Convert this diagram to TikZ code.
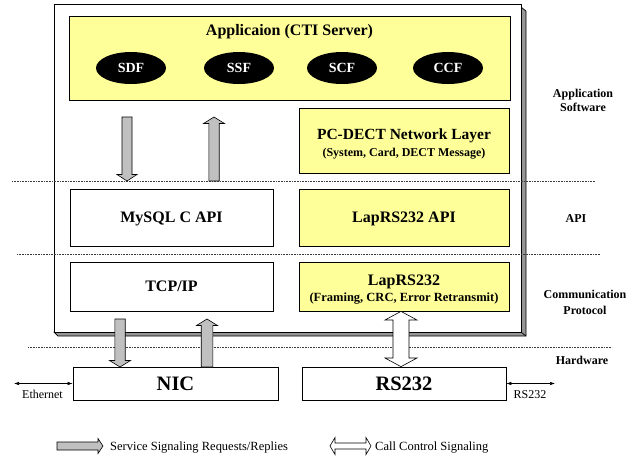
\documentclass[tikz,border=0pt]{standalone}
\usepackage{fontspec}
\setmainfont{Liberation Serif}
\usetikzlibrary{arrows.meta,shapes.geometric}

\definecolor{paleyellow}{RGB}{255,255,153}
\definecolor{arrowgray}{RGB}{192,192,192}
\definecolor{shadowgray}{RGB}{150,150,150}
\definecolor{dotgray}{RGB}{60,60,60}

% vertical block arrow: #1 style, #2 x, #3 tail y, #4 tip y, #5 half shaft, #6 half head
\newcommand{\blockvarrow}[6]{%
  \pgfmathsetmacro\bvbase{#4-6.5*sign(#4-#3)}%
  \filldraw[#1] (#2-#5,#3) -- (#2+#5,#3) -- (#2+#5,\bvbase) -- (#2+#6,\bvbase)
    -- (#2,#4) -- (#2-#6,\bvbase) -- (#2-#5,\bvbase) -- cycle;}

\begin{document}
\begin{tikzpicture}[x=1pt,y=-1pt,
  edge/.style={draw=black, line width=0.7pt},
  layerbox/.style={edge, fill=white, inner sep=0pt, text height=10.5pt, text depth=0pt,
    font=\bfseries\fontsize{16}{19}\selectfont},
  yellowbox/.style={layerbox, fill=paleyellow},
  hwbox/.style={edge, fill=white, inner sep=0pt, minimum height=33pt, text height=13.5pt,
    text depth=0pt, font=\bfseries\fontsize{20.5}{24}\selectfont},
  func/.style={ellipse, fill=black, text=white, minimum width=70pt, minimum height=32pt,
    inner sep=0pt, font=\bfseries\fontsize{14}{16}\selectfont},
  headline/.style={anchor=base, inner sep=0pt, font=\bfseries\fontsize{16}{19}\selectfont},
  subline/.style={anchor=base, inner sep=0pt, font=\bfseries\fontsize{12.5}{15}\selectfont},
  layername/.style={align=center, inner sep=0pt, font=\bfseries\fontsize{12}{14}\selectfont},
  plain/.style={inner sep=0pt, font=\fontsize{12}{14}\selectfont},
  dotline/.style={draw=dotgray, line width=0.6pt, dash pattern=on 0.8pt off 0.8pt},
  grayblock/.style={fill=arrowgray, draw=black, line width=0.6pt},
  whiteblock/.style={fill=white, draw=black, line width=0.6pt},
  wire/.style={draw=black, line width=0.6pt, {Latex[length=5pt,width=3.5pt]}-{Latex[length=5pt,width=3.5pt]}}
]
\useasboundingbox (0,0) rectangle (633,459);

% host frame with its bevelled shadow
\filldraw[edge, fill=shadowgray] (521,7) -- (526,11) -- (526,336) -- (58,336) -- (54,332) -- cycle;
\node[edge, fill=white, minimum width=467pt, minimum height=328pt, inner sep=0pt] (host) at (287.5,168) {};
\coordinate (shadowcorner) at (526,336);
\draw[edge] (host.south east) -- (shadowcorner);

% application layer
\node[yellowbox, minimum width=441pt, minimum height=84pt] (app) at (289.5,58) {};
\node[headline] (apptitle) at (289.5,35) {Applicaion (CTI Server)};
\node[func] (sdf) at (131,68) {SDF};
\node[func] (ssf) at (239,68) {SSF};
\node[func] (scf) at (342,68) {SCF};
\node[func] (ccf) at (448,68) {CCF};

\node[yellowbox, minimum width=210pt, minimum height=65pt] (netlayer) at (404,140.5) {};
\node[headline, font=\bfseries\fontsize{15.5}{18}\selectfont] (nettitle) at (404,139) {PC-DECT Network Layer};
\node[subline, font=\bfseries\fontsize{12}{14}\selectfont] (netsub) at (404,156.5) {(System, Card, DECT Message)};

% API layer
\node[layerbox, minimum width=203pt, minimum height=57pt] (mysql) at (171.5,217.5) {MySQL C API};
\node[yellowbox, minimum width=210pt, minimum height=57pt] (lapapi) at (404,217.5) {LapRS232 API};

% communication protocol layer
\node[layerbox, minimum width=203pt, minimum height=49pt] (tcpip) at (171.5,286.5) {TCP/IP};
\node[yellowbox, minimum width=210pt, minimum height=49pt] (lap) at (404,286.5) {};
\node[headline] (laptitle) at (404,285.5) {LapRS232};
\node[subline] (lapsub) at (404,301) {(Framing, CRC, Error Retransmit)};

% layer separators
\draw[dotline] (12,181) -- (595,181);
\draw[dotline] (17,254) -- (600,254);
\draw[dotline] (28,347) -- (612,347);

% hardware
\node[hwbox, minimum width=205pt] (nic) at (175.5,383.5) {NIC};
\node[hwbox, minimum width=204pt] (rs) at (404,383.5) {RS232};

\coordinate (ethend) at (14,383.5);
\coordinate (rsend) at (555,383.5);
\draw[wire] (ethend) -- (nic.west);
\draw[wire] (rs.east) -- (rsend);
\node[plain, anchor=base] (ethlabel) at (42.5,398.5) {Ethernet};
\node[plain, anchor=base] (rslabel) at (530,398.5) {RS232};

% layer names
\node[layername] (lnapp) at (583,100) {Application\\Software};
\node[layername, anchor=base] (lnapi) at (576,222) {API};
\node[layername, font=\bfseries\fontsize{12}{16}\selectfont] (lncomm) at (585,302) {Communication\\Protocol};
\node[layername, anchor=base] (lnhw) at (582,364) {Hardware};

% service signalling paths
\blockvarrow{grayblock}{127}{117}{181}{5}{10}
\blockvarrow{grayblock}{214}{181}{117}{5.2}{10.5}
\blockvarrow{grayblock}{120}{319}{367}{5.2}{10.5}
\blockvarrow{grayblock}{207}{367}{319}{5.8}{10.5}

% call control path between LapRS232 and the serial port
\filldraw[whiteblock] (lap.south -| 401,0) -- (417,320) -- (409,320) -- (409,358) -- (417,358)
  -- (rs.north -| 401,0) -- (385,358) -- (393,358) -- (393,320) -- (385,320) -- cycle;

% legend
\filldraw[grayblock] (57,442) -- (98,442) -- (98,438.5) -- (103,446) -- (98,453.5) -- (98,450) -- (57,450) -- cycle;
\node[plain, anchor=base west, font=\fontsize{12.5}{15}\selectfont] (leg1) at (110,450) {Service Signaling Requests/Replies};
\filldraw[whiteblock] (330,446) -- (335,437.5) -- (335,443) -- (366,443) -- (366,437.5) -- (371,446)
  -- (366,454.5) -- (366,449) -- (335,449) -- (335,454.5) -- cycle;
\node[plain, anchor=base west, font=\fontsize{12.5}{15}\selectfont] (leg2) at (375,450) {Call Control Signaling};
\end{tikzpicture}
\end{document}
